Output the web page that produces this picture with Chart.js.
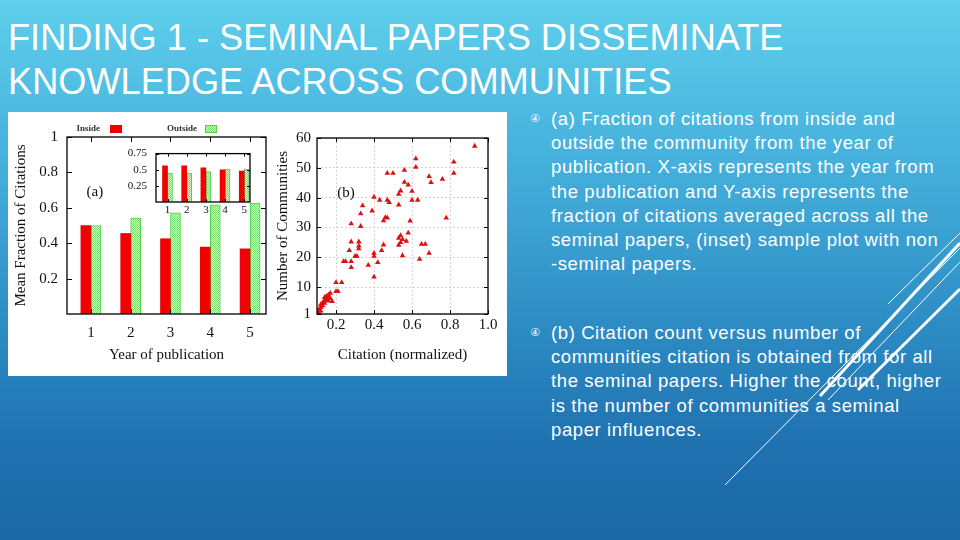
<!DOCTYPE html>
<html>
<head>
<meta charset="utf-8">
<script src="https://cdn.jsdelivr.net/npm/chart.js@4.4.1/dist/chart.umd.min.js"></script>
<style>
  html, body { margin: 0; padding: 0; }
  body {
    width: 960px; height: 540px; overflow: hidden; position: relative;
    background: linear-gradient(to bottom, #5fcfec 0%, #45b0dc 30%, #2d8cc4 60%, #1f72b0 82%, #1b68a6 100%);
    font-family: "Liberation Sans", Arial, sans-serif;
  }
  #title {
    position: absolute; left: 8px; top: 16px; color: #fff;
    font-size: 36.2px; line-height: 43.5px; white-space: nowrap;
  }
  #figure { position: absolute; left: 8px; top: 112px; width: 499px; height: 264px; background: #fff; }
  #figure canvas { position: absolute; }
  .item {
    position: absolute; left: 551px; color: #fff; font-size: 18.5px; line-height: 24.2px;
    letter-spacing: 0.6px; white-space: nowrap;
  }
  .item .mark {
    position: absolute; left: -21px; top: 0; font-size: 11px; letter-spacing: 0;
    font-family: "DejaVu Sans", "Noto Sans CJK SC", sans-serif;
  }
  #deco { position: absolute; left: 0; top: 0; }
</style>
</head>
<body>
<div id="title">FINDING 1 - SEMINAL PAPERS DISSEMINATE<br>KNOWLEDGE ACROSS COMMUNITIES</div>

<div id="figure">
  <canvas id="barA" width="262" height="264" style="left:0;top:0"></canvas>
  <canvas id="inset" width="140" height="80" style="left:117px;top:26px"></canvas>
  <canvas id="scatterB" width="237" height="264" style="left:262px;top:0"></canvas>
</div>

<div class="item" style="top:107px"><span class="mark">④</span>(a) Fraction of citations from inside and<br>outside the community from the year of<br>publication. X-axis represents the year from<br>the publication and Y-axis represents the<br>fraction of citations averaged across all the<br>seminal papers, (inset) sample plot with non<br>-seminal papers.</div>
<div class="item" style="top:321px"><span class="mark">④</span>(b) Citation count versus number of<br>communities citation is obtained from for all<br>the seminal papers. Higher the count, higher<br>is the number of communities a seminal<br>paper influences.</div>

<svg id="deco" width="960" height="540">
  <g stroke="#fff" fill="none">
    <line x1="725" y1="485" x2="960" y2="248" stroke-width="1"/>
    <line x1="820" y1="396" x2="960" y2="243" stroke-width="3"/>
    <line x1="828" y1="400" x2="960" y2="262" stroke-width="1"/>
    <line x1="888" y1="304" x2="960" y2="233" stroke-width="1"/>
    <line x1="858" y1="390" x2="960" y2="289" stroke-width="3"/>
  </g>
</svg>

<script>
// bar chart (a): mean fraction of citations per year
const years = [1, 2, 3, 4, 5];
const insideMean = [0.50, 0.455, 0.425, 0.378, 0.368];
const outsideMean = [0.50, 0.542, 0.572, 0.617, 0.626];
const fractionTicks = [0.2, 0.4, 0.6, 0.8, 1];

// inset: non-seminal papers
const insideInset = [0.56, 0.56, 0.53, 0.50, 0.48];
const outsideInset = [0.45, 0.45, 0.47, 0.51, 0.51];
const insetTicks = [0.25, 0.5, 0.75];

// scatter (b): citation (normalized) vs number of communities
const citation = [0.93, 0.62, 0.62, 0.82, 0.82, 0.69, 0.70, 0.76, 0.56, 0.47, 0.50, 0.56, 0.58, 0.60, 0.54, 0.53,
  0.40, 0.43, 0.47, 0.48, 0.60, 0.63, 0.53, 0.34, 0.39, 0.33, 0.46, 0.47, 0.45, 0.78, 0.59, 0.28, 0.33,
  0.58, 0.54, 0.53, 0.55, 0.57, 0.54, 0.53, 0.28, 0.32, 0.65, 0.67, 0.45, 0.32, 0.32, 0.27, 0.44, 0.40,
  0.69, 0.64, 0.55, 0.30, 0.31, 0.40, 0.24, 0.25, 0.28, 0.42, 0.37, 0.28, 0.40, 0.20, 0.23, 0.20, 0.21,
  0.17, 0.16, 0.15, 0.14, 0.17, 0.15, 0.16, 0.18, 0.14, 0.13, 0.12, 0.13, 0.12, 0.11, 0.12, 0.11, 0.105, 0.14, 0.16];
const communities = [57.3, 53.1, 50.2, 52.0, 48.2, 47.1, 45.1, 46.2, 49.2, 48.2, 48.2, 45.2, 44.3, 42.2, 42.3, 41.2,
  40.2, 39.2, 39.2, 38.4, 39.2, 39.2, 37.6, 37.3, 35.6, 34.6, 33.4, 33.2, 32.3, 33.2, 32.2, 31.3, 30.4,
  28.2, 27.3, 26.4, 26.0, 25.4, 25.0, 24.1, 25.2, 25.2, 24.4, 24.4, 24.2, 23.8, 22.9, 22.3, 22.3, 21.4,
  21.4, 19.4, 20.6, 20.4, 20.4, 20.4, 18.6, 18.6, 18.6, 18.3, 17.4, 16.6, 13.4, 11.6, 11.6, 8.6, 8.6,
  8.0, 7.4, 7.0, 6.6, 6.2, 6.0, 5.4, 5.2, 5.6, 4.8, 4.2, 3.8, 3.2, 2.6, 2.0, 1.6, 1.2, 4.6, 6.6];
const citationTicks = [0.2, 0.4, 0.6, 0.8, 1.0];
const communityTicks = [1, 10, 20, 30, 40, 50, 60];

const serif = '"Liberation Serif", "Times New Roman", serif';
const ink = '#111';

// light green dotted fill like the gnuplot pattern
function dotPattern() {
  const c = document.createElement('canvas');
  c.width = 2; c.height = 2;
  const g = c.getContext('2d');
  g.fillStyle = '#d6f8cb'; g.fillRect(0, 0, 2, 2);
  g.fillStyle = '#7fdc73'; g.fillRect(0, 0, 1, 1); g.fillRect(1, 1, 1, 1);
  return g.createPattern(c, 'repeat');
}
const dots = dotPattern();

// closed black frame with small inward ticks
const framePlugin = {
  id: 'frame',
  afterDatasetsDraw(chart, args, opts) {
    const {ctx, chartArea: a, scales} = chart;
    const len = opts.tick || 0;
    ctx.save();
    ctx.strokeStyle = '#000';
    ctx.lineWidth = 1;
    ctx.beginPath();
    if (len) {
      scales.y.ticks.forEach(t => {
        const py = Math.round(scales.y.getPixelForValue(t.value)) + 0.5;
        ctx.moveTo(a.left, py); ctx.lineTo(a.left + len, py);
        ctx.moveTo(a.right, py); ctx.lineTo(a.right - len, py);
      });
      scales.x.ticks.forEach(t => {
        const px = Math.round(scales.x.getPixelForValue(t.value)) + 0.5;
        ctx.moveTo(px, a.bottom); ctx.lineTo(px, a.bottom - len);
        ctx.moveTo(px, a.top); ctx.lineTo(px, a.top + len);
      });
    }
    ctx.stroke();
    ctx.lineWidth = 1.3;
    ctx.strokeRect(a.left, a.top, a.right - a.left, a.bottom - a.top);
    ctx.restore();
  }
};

// white plot background (for the inset)
const paperPlugin = {
  id: 'paper',
  beforeDraw(chart) {
    const {ctx, chartArea: a} = chart;
    ctx.save();
    ctx.fillStyle = '#fff';
    ctx.fillRect(a.left, a.top, a.right - a.left, a.bottom - a.top);
    ctx.restore();
  }
};

// panel letter placed in data coordinates
const notePlugin = {
  id: 'note',
  afterDatasetsDraw(chart, args, opts) {
    if (!opts.text) return;
    const {ctx, scales} = chart;
    ctx.save();
    ctx.fillStyle = ink;
    ctx.font = '15px ' + serif;
    ctx.textAlign = 'center';
    ctx.textBaseline = 'middle';
    ctx.fillText(opts.text, scales.x.getPixelForValue(opts.x), scales.y.getPixelForValue(opts.y));
    ctx.restore();
  }
};

// gnuplot style key: label then sample box
const keyPlugin = {
  id: 'key',
  afterDraw(chart, args, opts) {
    if (!opts.items) return;
    const {ctx} = chart;
    ctx.save();
    ctx.font = 'bold 9px ' + serif;
    ctx.textBaseline = 'middle';
    ctx.textAlign = 'right';
    chart.data.datasets.forEach((ds, i) => {
      const it = opts.items[i];
      ctx.fillStyle = '#333';
      ctx.fillText(ds.label, it.textRight, opts.y);
      ctx.fillStyle = ds.backgroundColor;
      ctx.fillRect(it.box, opts.y - 4, 12, 8);
      if (ds.borderWidth) {
        ctx.strokeStyle = ds.borderColor;
        ctx.lineWidth = 1;
        ctx.strokeRect(it.box + 0.5, opts.y - 3.5, 11, 7);
      }
    });
    ctx.restore();
  }
};

Chart.defaults.font.family = serif;
Chart.defaults.color = ink;

const noGrid = { display: false, drawTicks: false };

new Chart(document.getElementById('barA'), {
  type: 'bar',
  data: {
    datasets: [
      { label: 'Inside', data: years.map((x, i) => ({x: x, y: insideMean[i]})),
        backgroundColor: '#f20000', borderWidth: 0, barThickness: 10 },
      { label: 'Outside', data: years.map((x, i) => ({x: x, y: outsideMean[i]})),
        backgroundColor: dots, borderColor: '#52d24a', borderWidth: 1, barThickness: 10 }
    ]
  },
  options: {
    responsive: false,
    animation: false,
    layout: { padding: { top: 25, right: 4, left: 0, bottom: 0 } },
    plugins: {
      legend: { display: false },
      tooltip: { enabled: false },
      frame: { tick: 5 },
      note: { text: '(a)', x: 1.1, y: 0.687 },
      key: { y: 17, items: [ { textRight: 92, box: 102 }, { textRight: 189, box: 197 } ] }
    },
    scales: {
      x: {
        type: 'linear', min: 0.4, max: 5.4, offset: false,
        afterBuildTicks: s => { s.ticks = years.map(v => ({value: v})); },
        grid: noGrid,
        border: { display: false },
        ticks: { padding: 10, font: { size: 15 } },
        title: { display: true, text: 'Year of publication', font: { size: 15 }, padding: { top: 0, bottom: 12 } },
        afterFit: s => { s.height = 62; }
      },
      y: {
        min: 0, max: 1,
        afterBuildTicks: s => { s.ticks = fractionTicks.map(v => ({value: v})); },
        grid: noGrid,
        border: { display: false },
        ticks: { padding: 9, font: { size: 15 }, callback: v => String(v) },
        title: { display: true, text: 'Mean Fraction of Citations', font: { size: 15 }, padding: { top: 4 } },
        afterFit: s => { s.width = 59; }
      }
    }
  },
  plugins: [framePlugin, notePlugin, keyPlugin]
});

new Chart(document.getElementById('inset'), {
  type: 'bar',
  data: {
    datasets: [
      { label: 'Inside', data: years.map((x, i) => ({x: x, y: insideInset[i]})),
        backgroundColor: '#f20000', borderWidth: 0, barThickness: 5 },
      { label: 'Outside', data: years.map((x, i) => ({x: x, y: outsideInset[i]})),
        backgroundColor: dots, borderColor: '#52d24a', borderWidth: 1, barThickness: 5 }
    ]
  },
  options: {
    responsive: false,
    animation: false,
    layout: { padding: { top: 0, right: 15, left: 0, bottom: 0 } },
    plugins: { legend: { display: false }, tooltip: { enabled: false }, frame: { tick: 3 } },
    scales: {
      x: {
        type: 'linear', min: 0.4, max: 5.3, offset: false,
        afterBuildTicks: s => { s.ticks = years.map(v => ({value: v})); },
        grid: noGrid,
        border: { display: false },
        ticks: { padding: 2, font: { size: 11 } },
        afterFit: s => { s.height = 16; }
      },
      y: {
        min: 0, max: 0.75,
        afterBuildTicks: s => { s.ticks = insetTicks.map(v => ({value: v})); },
        grid: noGrid,
        border: { display: false },
        ticks: { padding: 9, font: { size: 11 }, callback: v => String(v) },
        afterFit: s => { s.width = 31; }
      }
    }
  },
  plugins: [paperPlugin, framePlugin]
});

new Chart(document.getElementById('scatterB'), {
  type: 'scatter',
  data: {
    datasets: [{
      label: 'Seminal papers',
      data: citation.map((c, i) => ({x: c, y: communities[i]})),
      pointStyle: 'triangle', pointRadius: 3.2, pointHoverRadius: 3.2,
      backgroundColor: '#dc1010', borderColor: '#dc1010', borderWidth: 0
    }]
  },
  options: {
    responsive: false,
    animation: false,
    layout: { padding: { top: 26, right: 19, left: 0, bottom: 0 } },
    plugins: {
      legend: { display: false },
      tooltip: { enabled: false },
      frame: { tick: 4 },
      note: { text: '(b)', x: 0.253, y: 41.7 }
    },
    scales: {
      x: {
        type: 'linear', min: 0.1, max: 1.0,
        afterBuildTicks: s => { s.ticks = citationTicks.map(v => ({value: v})); },
        grid: { color: '#d4d4d4', lineWidth: 1, drawTicks: false },
        border: { display: false, dash: [2, 2] },
        ticks: { padding: 2, font: { size: 15 }, callback: v => v.toFixed(1) },
        title: { display: true, text: 'Citation (normalized)', font: { size: 15 }, padding: { top: 0, bottom: 12 } },
        afterFit: s => { s.height = 62; }
      },
      y: {
        min: 1, max: 60,
        afterBuildTicks: s => { s.ticks = communityTicks.map(v => ({value: v})); },
        grid: { color: '#d4d4d4', lineWidth: 1, drawTicks: false },
        border: { display: false, dash: [2, 2] },
        ticks: { padding: 6, font: { size: 15 } },
        title: { display: true, text: 'Number of Communities', font: { size: 15 }, padding: { top: 4 } },
        afterFit: s => { s.width = 47; }
      }
    }
  },
  plugins: [framePlugin, notePlugin]
});
</script>
</body>
</html>
